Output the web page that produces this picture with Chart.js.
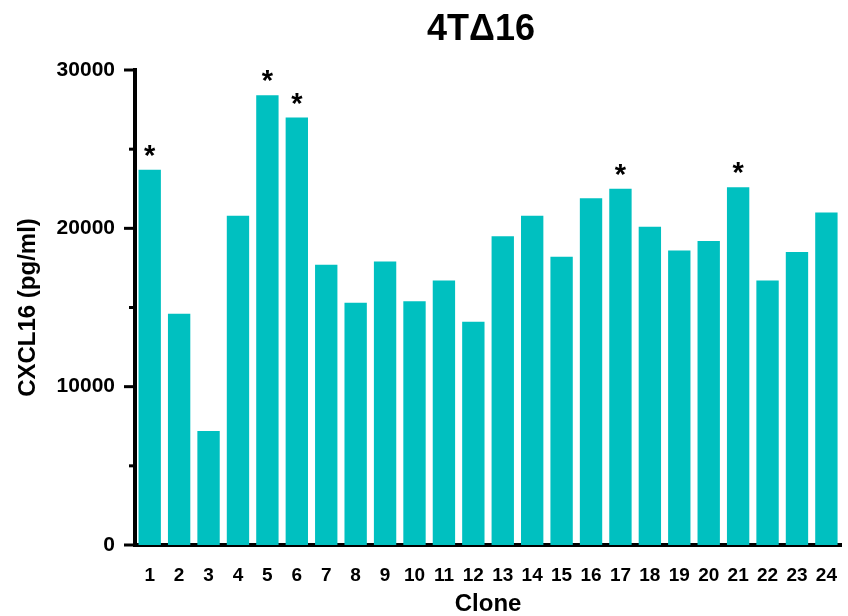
<!DOCTYPE html>
<html lang="en">
<head>
  <meta charset="UTF-8">
  <title>4TΔ16</title>
  <style>
    body { margin: 0; background: #fff; }
    #wrap { width: 848px; height: 616px; }
  </style>
  <script src="https://cdn.jsdelivr.net/npm/chart.js"></script>
</head>
<body>
  <div id="wrap"><canvas id="cxcl16Chart"></canvas></div>
  <script>
    // values
    const clones = ['1','2','3','4','5','6','7','8','9','10','11','12',
                    '13','14','15','16','17','18','19','20','21','22','23','24'];
    const cxcl16 = [23700, 14600, 7200, 20800, 28400, 27000, 17700, 15300, 17900, 15400, 16700, 14100,
                    19500, 20800, 18200, 21900, 22500, 20100, 18600, 19200, 22600, 16700, 18500, 21000];
    const significant = ['1', '5', '6', '17', '21'];
    const yMajorTicks = [0, 10000, 20000, 30000];
    const yMinorTicks = [5000, 15000, 25000];
    const chartTitle = '4TΔ16';

    const FONT = 'Liberation Sans, Arial, sans-serif';

    // title, tick marks on the y axis and the asterisks over the bars
    const extras = {
      id: 'extras',
      afterDraw(chart) {
        const ctx = chart.ctx;
        const y = chart.scales.y;
        const x0 = chart.chartArea.left;
        ctx.save();
        ctx.fillStyle = '#000';
        ctx.font = 'bold 36px ' + FONT;
        ctx.textAlign = 'center';
        ctx.textBaseline = 'middle';
        ctx.fillText(chartTitle, 481, 30);

        ctx.strokeStyle = '#000';
        ctx.lineWidth = 3;
        yMajorTicks.forEach(v => {
          const py = y.getPixelForValue(v);
          ctx.beginPath(); ctx.moveTo(x0 - 11, py); ctx.lineTo(x0, py); ctx.stroke();
        });
        yMinorTicks.forEach(v => {
          const py = y.getPixelForValue(v);
          ctx.beginPath(); ctx.moveTo(x0 - 6, py); ctx.lineTo(x0, py); ctx.stroke();
        });
        const bars = chart.getDatasetMeta(0).data;
        ctx.font = 'bold 29px ' + FONT;
        significant.forEach(c => {
          const b = bars[clones.indexOf(c)];
          ctx.fillText('*', b.x, b.y - 13);
        });
        ctx.restore();
      }
    };

    new Chart(document.getElementById('cxcl16Chart'), {
      type: 'bar',
      data: {
        labels: clones,
        datasets: [{
          data: cxcl16,
          backgroundColor: '#00C0C0',
          borderWidth: 0,
          barPercentage: 0.76,
          categoryPercentage: 1.0
        }]
      },
      options: {
        responsive: true,
        maintainAspectRatio: false,
        animation: false,
        layout: { padding: { top: 70, right: 2, left: 0, bottom: 0 } },
        plugins: {
          legend: { display: false },
          tooltip: { enabled: false },
          title: { display: false }
        },
        scales: {
          x: {
            grid: { display: false },
            border: { display: true, color: '#000', width: 4 },
            ticks: { color: '#000', font: { family: FONT, size: 19, weight: 'bold' }, padding: 11, maxRotation: 0, autoSkip: false },
            title: { display: true, text: 'Clone', color: '#000', font: { family: FONT, size: 24, weight: 'bold', lineHeight: 1.0 }, padding: { top: 4, bottom: 0 } },
            afterFit: s => { s.height = 71; }
          },
          y: {
            min: 0,
            max: 30000,
            afterBuildTicks: s => { s.ticks = yMajorTicks.map(v => ({ value: v })); },
            grid: { display: false },
            border: { display: true, color: '#000', width: 4 },
            ticks: { color: '#000', font: { family: FONT, size: 21, weight: 'bold' }, padding: 12, callback: v => String(v) },
            title: { display: true, text: 'CXCL16 (pg/ml)', color: '#000', font: { family: FONT, size: 24, weight: 'bold' }, padding: { top: 14, bottom: 4 } },
            afterFit: s => { s.width = 135; }
          }
        }
      },
      plugins: [extras]
    });
  </script>
</body>
</html>
